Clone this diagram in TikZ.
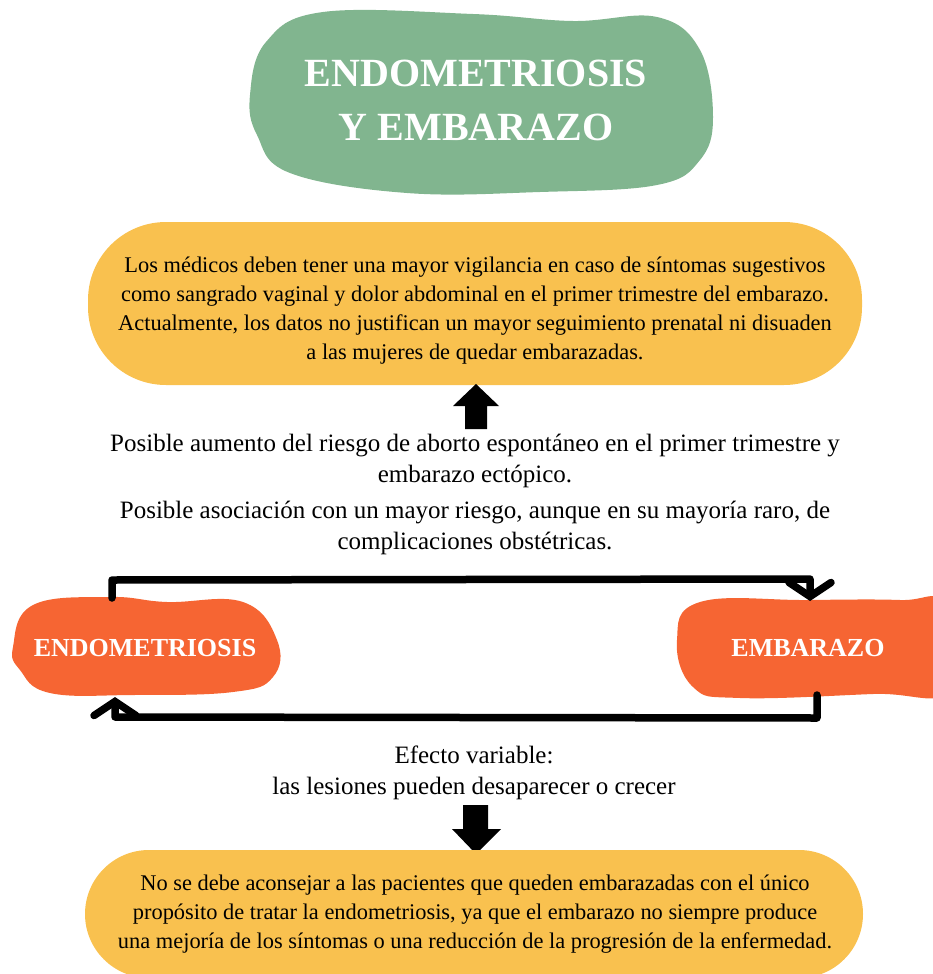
\documentclass[tikz,border=0pt]{standalone}
\usepackage{fontspec}
\setmainfont{Liberation Serif}
\usetikzlibrary{arrows.meta}
\definecolor{sage}{HTML}{81B58F}
\definecolor{mustard}{HTML}{F9C14F}
\definecolor{coral}{HTML}{F66533}

\begin{document}
\begin{tikzpicture}[x=1pt,y=-1pt,
  pill/.style={fill=mustard, rounded corners=78pt, inner sep=0pt},
  bodytext/.style={font=\fontsize{22.4}{29}\selectfont, align=center, text=black, inner sep=0pt},
  midtext/.style={font=\fontsize{25}{31}\selectfont, align=center, text=black, inner sep=0pt},
  headtext/.style={font=\bfseries\fontsize{40}{54}\selectfont, align=center, text=white, inner sep=0pt},
  tagtext/.style={font=\bfseries\fontsize{26}{30}\selectfont, text=white, inner sep=0pt},
  loop/.style={line width=7.5pt, line cap=round, line join=round,
    -{Straight Barb[length=14pt, width=42pt, line cap=round]}},
  blockarrow/.style={fill=black}
]
\useasboundingbox (0,0) rectangle (933,974);

% title blob
\fill[sage] plot[smooth cycle, tension=0.65] coordinates {
  (250,95) (266,42) (323,12) (473,14) (573,21) (657,17) (700,50)
  (713,117) (700,160) (657,185) (540,192) (407,193) (290,173) (257,135)};
\node[headtext] (title) at (476,100) {ENDOMETRIOSIS\\Y EMBARAZO};

% advice pill
\node[pill, minimum width=774pt, minimum height=163pt] (advice) at (475,303.5) {};
\node[bodytext] (advicetext) at (475,311) {Los médicos deben tener una mayor vigilancia en caso de síntomas sugestivos\\
como sangrado vaginal y dolor abdominal en el primer trimestre del embarazo.\\
Actualmente, los datos no justifican un mayor seguimiento prenatal ni disuaden\\
a las mujeres de quedar embarazadas.};

% up block arrow
\coordinate (upTip) at (476,384);
\fill[blockarrow, shift={(upTip)}] (0,0) -- (23,22) -- (11,22) -- (11,45) -- (-11,45) -- (-11,22) -- (-23,22) -- cycle;

% risks text
\node[midtext] (risks) at (475,494) {Posible aumento del riesgo de aborto espontáneo en el primer trimestre y\\
embarazo ectópico.\\[5pt]
Posible asociación con un mayor riesgo, aunque en su mayoría raro, de\\
complicaciones obstétricas.};

% endometriosis blob
\fill[coral] plot[smooth cycle, tension=0.7] coordinates {
  (13,647) (33,605) (110,597) (167,602) (243,602) (277,640)
  (273,677) (233,692) (133,695) (50,693) (20,670)};
\node[tagtext] (endo) at (145,648) {ENDOMETRIOSIS};

% embarazo blob
\fill[coral] plot[smooth cycle, tension=0.7] coordinates {
  (677,640) (700,602) (807,600) (900,600) (945,605) (950,690)
  (873,694) (740,698) (693,687)};
\node[tagtext] (emb) at (808,648) {EMBARAZO};

% cycle connectors
\coordinate (endoTop) at (112,598);
\coordinate (embTop) at (810,601);
\coordinate (embBot) at (817,695);
\coordinate (endoBot) at (115,697);
\draw[loop] (endoTop) -- (112,580) -- (810,579) -- (embTop);
\draw[loop] (embBot) -- (817,718) -- (115,717) -- (endoBot);

% effect text
\node[midtext] (effect) at (474,773) {Efecto variable:\\
las lesiones pueden desaparecer o crecer};

% down block arrow
\coordinate (downTip) at (476,854);
\fill[blockarrow, shift={(downTip)}] (0,0) -- (25,-25) -- (12,-25) -- (12,-49) -- (-13,-49) -- (-13,-25) -- (-24,-25) -- cycle;

% counsel pill
\node[pill, rounded corners=64pt, minimum width=778pt, minimum height=128pt] (counsel) at (474,914) {};
\node[bodytext] (counseltext) at (475,914.5) {No se debe aconsejar a las pacientes que queden embarazadas con el único\\
propósito de tratar la endometriosis, ya que el embarazo no siempre produce\\
una mejoría de los síntomas o una reducción de la progresión de la enfermedad.};
\end{tikzpicture}
\end{document}
